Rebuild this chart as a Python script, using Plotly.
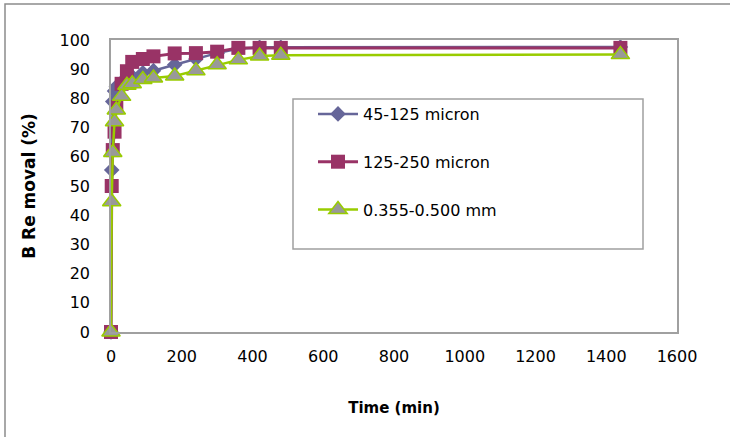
import plotly.graph_objects as go

# Contact time (min) and boron removal (%) for three particle-size fractions
time_min = [0, 2, 5, 10, 15, 30, 45, 60, 90, 120, 180, 240, 300, 360, 420, 480, 1440]
removal_45_125 = [0, 55.5, 78.9, 82.5, 84.0, 85.5, 86.5, 87.5, 88.8, 89.5, 91.5, 93.5, 95.5, 97.0, 97.5, 97.5, 97.6]
removal_125_250 = [0, 50.0, 62.3, 68.6, 77.0, 85.0, 89.3, 92.5, 93.5, 94.4, 95.4, 95.5, 96.0, 97.3, 97.3, 97.3, 97.3]
removal_355_500 = [0, 44.6, 61.5, 72.0, 76.0, 80.7, 84.5, 85.0, 86.5, 87.0, 87.7, 89.5, 91.5, 93.2, 94.5, 94.8, 95.0]

series_names = ["45-125 micron", "125-250 micron", "0.355-0.500 mm"]
x_ticks = [0, 200, 400, 600, 800, 1000, 1200, 1400, 1600]
y_ticks = [0, 10, 20, 30, 40, 50, 60, 70, 80, 90, 100]

FONT = "DejaVu Sans"
AXIS_GRAY = "#a0a0a0"

fig = go.Figure()

fig.add_trace(go.Scatter(
    x=time_min, y=removal_45_125, name=series_names[0], mode="lines+markers",
    line=dict(color="#666699", width=2.5),
    marker=dict(symbol="diamond", size=12, color="#666699", line=dict(width=0)),
    legendgroup="a", cliponaxis=False,
))
fig.add_trace(go.Scatter(
    x=time_min, y=removal_125_250, name=series_names[1], mode="lines+markers",
    line=dict(color="#993366", width=3),
    marker=dict(symbol="square", size=14, color="#993366", line=dict(width=0)),
    legendgroup="b", cliponaxis=False,
))
fig.add_trace(go.Scatter(
    x=time_min, y=removal_355_500, name=series_names[2], mode="lines+markers",
    line=dict(color="#99cc00", width=2.5),
    marker=dict(symbol="triangle-up", size=16, color="#999999",
                line=dict(color="#99cc00", width=1.5)),
    legendgroup="c", cliponaxis=False,
))

L, R, T, B = 111, 53, 40, 105
W, H = 730, 437
pw, ph = W - L - R, H - T - B


def px_x(p):
    return (p - L) / pw


def px_y(p):
    return (H - B - p) / ph


shapes = [
    # outer chart frame
    dict(type="rect", xref="paper", yref="paper",
         x0=px_x(5), x1=px_x(760), y0=px_y(460), y1=px_y(4),
         line=dict(color="#8c8c8c", width=1.5), layer="below"),
    # legend frame
    dict(type="rect", xref="paper", yref="paper",
         x0=px_x(293), x1=px_x(643), y0=px_y(249), y1=px_y(99),
         line=dict(color=AXIS_GRAY, width=1.5), fillcolor="white", layer="above"),
]

fig.update_layout(
    width=W, height=H,
    margin=dict(l=L, r=R, t=T, b=B, pad=0),
    paper_bgcolor="white", plot_bgcolor="white",
    font=dict(family=FONT, size=16, color="#000000"),
    shapes=shapes,
    showlegend=True,
    legend=dict(
        x=px_x(313), y=px_y(97), xanchor="left", yanchor="top",
        bgcolor="rgba(0,0,0,0)", borderwidth=0,
        font=dict(family=FONT, size=16, color="#000000"),
        traceorder="grouped", tracegroupgap=24, itemwidth=40,
    ),
    xaxis=dict(
        range=[0, 1600], tickvals=x_ticks, ticktext=[str(v) for v in x_ticks],
        showgrid=False, zeroline=False, showline=True, mirror=True,
        linecolor=AXIS_GRAY, linewidth=1.5, ticks="",
        ticklabelstandoff=9,
        title=dict(text="<b>Time (min)</b>", font=dict(family=FONT, size=15), standoff=38),
    ),
    yaxis=dict(
        range=[0, 100], tickvals=y_ticks, ticktext=[str(v) for v in y_ticks],
        showgrid=False, zeroline=False, showline=True, mirror=True,
        linecolor=AXIS_GRAY, linewidth=1.5, ticks="",
        ticklabelstandoff=16,
        title=dict(text="<b>B Re moval (%)</b>", font=dict(family=FONT, size=17), standoff=20),
    ),
)

fig.write_html("out.html")
